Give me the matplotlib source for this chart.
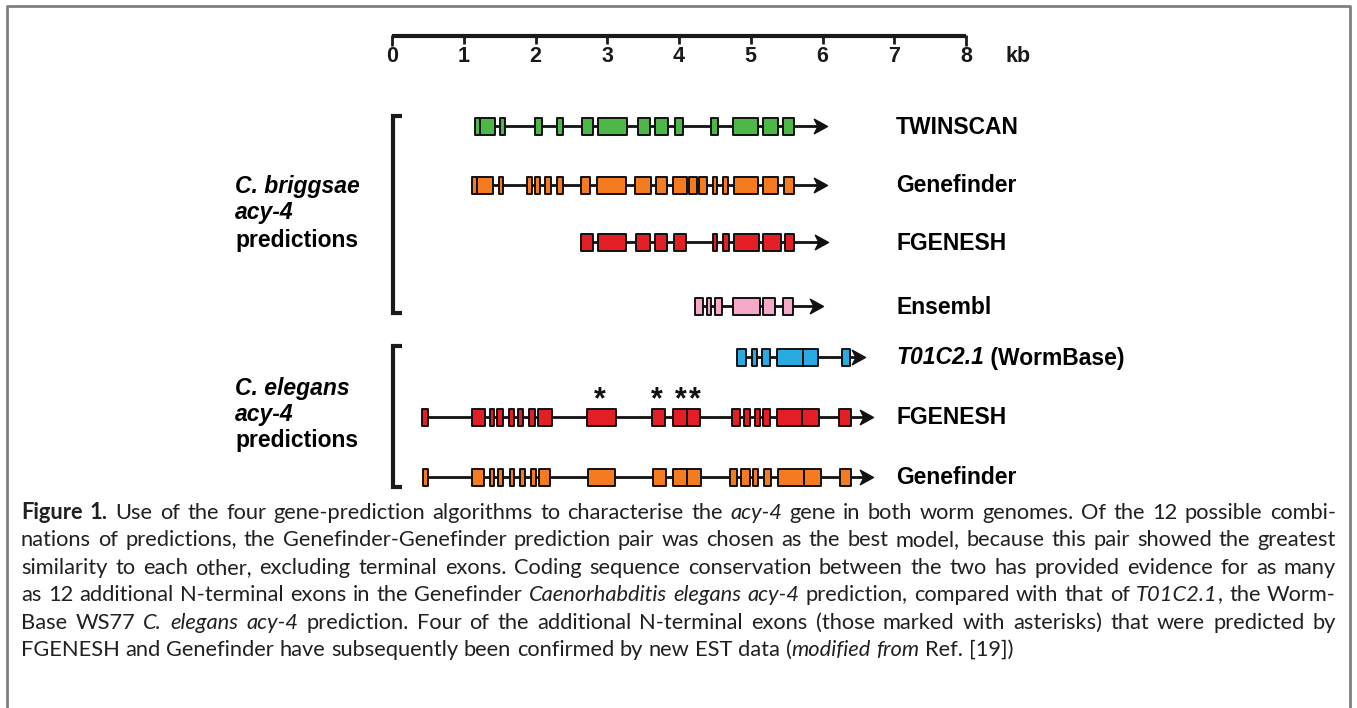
import matplotlib
matplotlib.use('Agg')
import matplotlib.pyplot as plt
from matplotlib.path import Path

# ---------------- data (kb) ----------------
scale_ticks = [0, 1, 2, 3, 4, 5, 6, 7, 8]
scale_labels = ['0', '1', '2', '3', '4', '5', '6', '7', '8']
scale_unit = 'kb'

track_names = ['TWINSCAN', 'Genefinder', 'FGENESH', 'Ensembl',
               'T01C2.1', 'FGENESH', 'Genefinder']
track_colors = ['#4db848', '#f47b20', '#e31e24', '#f6a8c9',
                '#29abe2', '#e31e24', '#f47b20']

twinscan_exons = [(1.16, 1.23), (1.23, 1.44), (1.51, 1.58), (1.99, 2.09), (2.30, 2.38),
                  (2.65, 2.80), (2.87, 3.28), (3.43, 3.60), (3.67, 3.85), (3.94, 4.06),
                  (4.45, 4.54), (4.75, 5.10), (5.17, 5.38), (5.45, 5.60)]
twinscan_end = 6.06

cb_genefinder_exons = [(1.12, 1.19), (1.19, 1.41), (1.49, 1.55), (1.88, 1.95), (1.99, 2.06),
                       (2.13, 2.22), (2.30, 2.38), (2.63, 2.76), (2.86, 3.26), (3.39, 3.61),
                       (3.68, 3.83), (3.92, 4.11), (4.14, 4.25), (4.28, 4.39), (4.47, 4.53),
                       (4.61, 4.68), (4.77, 5.10), (5.17, 5.38), (5.46, 5.60)]
cb_genefinder_end = 6.06

cb_fgenesh_exons = [(2.63, 2.80), (2.87, 3.26), (3.40, 3.60), (3.67, 3.83), (3.93, 4.10),
                    (4.47, 4.53), (4.61, 4.70), (4.77, 5.12), (5.17, 5.42), (5.48, 5.60)]
cb_fgenesh_end = 6.08

ensembl_exons = [(4.22, 4.33), (4.39, 4.45), (4.50, 4.60), (4.75, 5.13), (5.17, 5.34),
                 (5.45, 5.59)]
ensembl_end = 6.01

wormbase_exons = [(4.81, 4.93), (5.02, 5.09), (5.16, 5.27), (5.37, 5.73), (5.73, 5.94),
                  (6.27, 6.38)]
wormbase_end = 6.59

ce_fgenesh_exons = [(0.42, 0.50), (1.12, 1.30), (1.37, 1.42), (1.46, 1.55), (1.63, 1.70),
                    (1.76, 1.83), (1.91, 1.99), (2.04, 2.23), (2.72, 3.12), (3.62, 3.81),
                    (3.92, 4.11), (4.11, 4.29), (4.74, 4.85), (4.91, 4.99), (5.06, 5.13),
                    (5.17, 5.27), (5.37, 5.71), (5.71, 5.95), (6.23, 6.40)]
ce_fgenesh_end = 6.70
confirmed_exons_kb = [2.90, 3.69, 4.03, 4.22]

ce_genefinder_exons = [(0.43, 0.50), (1.12, 1.28), (1.37, 1.42), (1.48, 1.55), (1.65, 1.70),
                       (1.78, 1.85), (1.94, 2.01), (2.05, 2.20), (2.73, 3.11), (3.64, 3.82),
                       (3.92, 4.11), (4.11, 4.31), (4.71, 4.81), (4.86, 4.99), (5.03, 5.10),
                       (5.19, 5.28), (5.38, 5.74), (5.74, 5.98), (6.24, 6.40)]
ce_genefinder_end = 6.70

track_exons = [twinscan_exons, cb_genefinder_exons, cb_fgenesh_exons, ensembl_exons,
               wormbase_exons, ce_fgenesh_exons, ce_genefinder_exons]
track_ends = [twinscan_end, cb_genefinder_end, cb_fgenesh_end, ensembl_end,
              wormbase_end, ce_fgenesh_end, ce_genefinder_end]

group_labels = [[('C. briggsae', 'italic'), ('acy-4', 'italic'), ('predictions', 'normal')],
                [('C. elegans', 'italic'), ('acy-4', 'italic'), ('predictions', 'normal')]]

caption_lines = [
    [("Figure 1.", 'b'), (" Use of the four gene-prediction algorithms to characterise the ", 'r'),
     ("acy-4", 'i'), (" gene in both worm genomes. Of the 12 possible combi-", 'r')],
    [("nations of predictions, the Genefinder-Genefinder prediction pair was chosen as the best model, because this pair showed the greatest", 'r')],
    [("similarity to each other, excluding terminal exons. Coding sequence conservation between the two has provided evidence for as many", 'r')],
    [("as 12 additional N-terminal exons in the Genefinder ", 'r'), ("Caenorhabditis elegans acy-4", 'i'),
     (" prediction, compared with that of ", 'r'), ("T01C2.1", 'i'), (", the Worm-", 'r')],
    [("Base WS77 ", 'r'), ("C. elegans acy-4", 'i'),
     (" prediction. Four of the additional N-terminal exons (those marked with asterisks) that were predicted by", 'r')],
    [("FGENESH and Genefinder have subsequently been confirmed by new EST data (", 'r'),
     ("modified from", 'i'), (" Ref. [19])", 'r')],
]

# ---------------- layout ----------------
W, H = 1357, 708
PX0, PXKB = 392.0, 71.75
track_y = [126, 185, 242, 306, 357, 417, 477]
exon_h = 17
LABEL_FONT = ['Liberation Sans', 'DejaVu Sans']
CAP_FONT = ['Lato', 'DejaVu Sans']

fig = plt.figure(figsize=(W / 100, H / 100), dpi=100)
fig.patch.set_facecolor('white')

# gene axes: x in kb, y in pixel rows
ax = fig.add_axes([0, 0, 1, 1])
ax.set_xlim(-PX0 / PXKB, (W - PX0) / PXKB)
ax.set_ylim(H, 0)
ax.axis('off')

# overlay axes in pixel coordinates for text / frame
tax = fig.add_axes([0, 0, 1, 1])
tax.set_xlim(0, W)
tax.set_ylim(H, 0)
tax.axis('off')
tax.patch.set_alpha(0)

# frame
tax.plot([7, 7, 1350, 1350], [H + 5, 6, 6, H + 5], color='#7f7f7f', lw=2, solid_capstyle='butt')

# scale bar
ax.plot([scale_ticks[0], scale_ticks[-1]], [36, 36], color='#1a1a1a', lw=3, solid_capstyle='butt')
for t, lab in zip(scale_ticks, scale_labels):
    bot = 46 if t in (scale_ticks[0], scale_ticks[-1]) else 44
    ax.plot([t, t], [35, bot], color='#1a1a1a', lw=2, solid_capstyle='butt')
    ax.text(t, 56, lab, ha='center', va='center', fontsize=15.5, fontweight='bold',
            family=LABEL_FONT, color='#1a1a1a')
ax.text(scale_ticks[-1] + 0.55, 56, scale_unit, ha='left', va='center', fontsize=15.5,
        fontweight='bold', family=LABEL_FONT, color='#1a1a1a')

# arrowhead marker (notched)
head = Path([(0, 0), (-1, 0.55), (-0.72, 0), (-1, -0.55), (0, 0)],
            [Path.MOVETO, Path.LINETO, Path.LINETO, Path.LINETO, Path.CLOSEPOLY])

for exons, end, y, col in zip(track_exons, track_ends, track_y, track_colors):
    ax.plot([exons[0][0], end - 0.08], [y, y], color='#111111', lw=2, zorder=2)
    ax.plot([end], [y], marker=head, markersize=19, color='#111111', zorder=2, lw=0)
    ax.broken_barh([(s, e - s) for s, e in exons], (y - exon_h / 2, exon_h),
                   facecolors=col, edgecolors='#111111', linewidth=1.4, zorder=3)

# asterisks over confirmed exons
for x in confirmed_exons_kb:
    ax.text(x, 400, '*', ha='center', va='center', fontsize=22, fontweight='bold',
            family=LABEL_FONT, color='#111111')

fig.canvas.draw()
renderer = fig.canvas.get_renderer()

# track labels
for name, y in zip(track_names, track_y):
    if name == 'T01C2.1':
        t1 = tax.text(896, y + 1, name, ha='left', va='center', fontsize=16.5,
                      fontweight='bold', style='italic', family=LABEL_FONT)
        bb = t1.get_window_extent(renderer)
        tax.text(896 + bb.width, y + 1, ' (WormBase)', ha='left', va='center', fontsize=16.5,
                 fontweight='bold', family=LABEL_FONT)
    else:
        tax.text(896, y + 1, name, ha='left', va='center', fontsize=16.5,
                 fontweight='bold', family=LABEL_FONT)

# group labels and brackets
group_y = [(186, 213, 241), (388, 414, 441)]
brackets = [(116, 313), (346, 487)]
for labs, ys, (b0, b1) in zip(group_labels, group_y, brackets):
    for (txt, st), y in zip(labs, ys):
        tax.text(235, y, txt, ha='left', va='center', fontsize=16.5, fontweight='bold',
                 style=st, family=LABEL_FONT)
    tax.plot([402, 393, 393, 402], [b0, b0, b1, b1], color='#1a1a1a', lw=3,
             solid_joinstyle='miter', solid_capstyle='butt')

# caption, justified
styles = {'r': dict(fontweight='normal', style='normal'),
          'b': dict(fontweight='bold', style='normal'),
          'i': dict(fontweight='normal', style='italic')}


def run_width(s, st, size):
    t = tax.text(0, 0, s, fontsize=size, family=CAP_FONT, **styles[st])
    w = t.get_window_extent(renderer).width
    t.remove()
    return w


def words_of(line):
    words = [[]]
    for text, st in line:
        parts = text.split(' ')
        for k, p in enumerate(parts):
            if k > 0:
                words.append([])
            if p:
                words[-1].append((p, st))
    return [w for w in words if w]


L, R = 21, 1336
# choose caption size so the widest justified line fits with near-natural spacing
probe = 14.0
sp = run_width('a a', 'r', probe) - run_width('aa', 'r', probe)
nat = []
for line in caption_lines[:-1]:
    words = words_of(line)
    nat.append(sum(run_width(p, st, probe) for w in words for p, st in w) + sp * (len(words) - 1))
CAP_SIZE = probe * (R - L) * 0.995 / max(nat)

space_nat = run_width('a a', 'r', CAP_SIZE) - run_width('aa', 'r', CAP_SIZE)
base0, lstep = 519, 27.4
for li, line in enumerate(caption_lines):
    words = words_of(line)
    widths = [[run_width(p, st, CAP_SIZE) for p, st in w] for w in words]
    total = sum(sum(ws) for ws in widths)
    last = li == len(caption_lines) - 1
    gap = space_nat if last else (R - L - total) / (len(words) - 1)
    x = L
    y = base0 + li * lstep
    for w, ws in zip(words, widths):
        for (p, st), pw in zip(w, ws):
            tax.text(x, y, p, ha='left', va='baseline', fontsize=CAP_SIZE,
                     family=CAP_FONT, color='#231f20', **styles[st])
            x += pw
        x += gap

fig.savefig('out.png', dpi=100, facecolor='white')
